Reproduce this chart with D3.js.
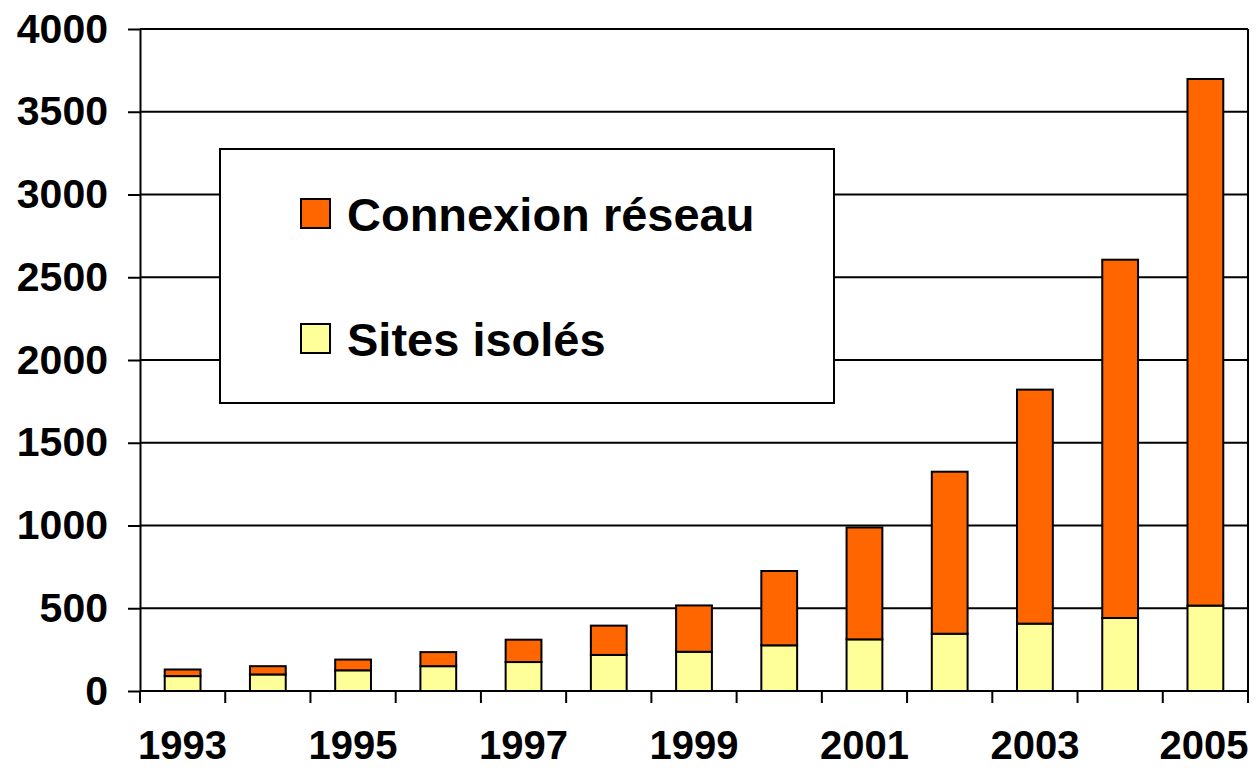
<!DOCTYPE html>
<html>
<head>
<meta charset="utf-8">
<script src="https://cdn.jsdelivr.net/npm/d3@7"></script>
<style>
  body { margin: 0; background: #fff; }
  text { font-family: "Liberation Sans", Arial, sans-serif; font-weight: bold; }
</style>
</head>
<body>
<div id="chart"></div>
<script>
const years = ["1993","1994","1995","1996","1997","1998","1999","2000","2001","2002","2003","2004","2005"];
const sitesIsoles = [90, 100, 125, 150, 175, 218, 237, 276, 312, 346, 407, 441, 516];
const connexionReseau = [40, 50, 65, 85, 135, 177, 280, 449, 676, 979, 1414, 2165, 3182];
const yTicks = [0, 500, 1000, 1500, 2000, 2500, 3000, 3500, 4000];
const xLabels = ["1993","1995","1997","1999","2001","2003","2005"];
const seriesNames = ["Connexion réseau", "Sites isolés"];
const colors = { "Connexion réseau": "#ff6600", "Sites isolés": "#ffff99" };

const width = 1256, height = 768;
const plotLeft = 140, plotRight = 1248, plotTop = 29, plotBottom = 691;

const svg = d3.select("#chart").append("svg")
  .attr("width", width)
  .attr("height", height);

const x = d3.scaleBand().domain(years).range([plotLeft, plotRight])
  .paddingInner(0.58).paddingOuter(0.29);
const y = d3.scaleLinear().domain([0, 4000]).range([plotBottom, plotTop]);

// gridlines
svg.append("g")
  .selectAll("line")
  .data(yTicks.filter(d => d > 0))
  .join("line")
  .attr("x1", plotLeft).attr("x2", plotRight)
  .attr("y1", d => y(d)).attr("y2", d => y(d))
  .attr("stroke", "#000").attr("stroke-width", 2);

// right border of plot area
svg.append("line")
  .attr("x1", plotRight).attr("x2", plotRight)
  .attr("y1", y(4000)).attr("y2", y(0))
  .attr("stroke", "#000").attr("stroke-width", 2);

// stacked bars
const table = years.map((yr, i) => ({ year: yr, "Sites isolés": sitesIsoles[i], "Connexion réseau": connexionReseau[i] }));
const stack = d3.stack().keys(["Sites isolés", "Connexion réseau"]);
const layers = stack(table);

svg.append("g")
  .selectAll("g")
  .data(layers)
  .join("g")
  .attr("fill", d => colors[d.key])
  .selectAll("rect")
  .data(d => d)
  .join("rect")
  .attr("x", d => x(d.data.year))
  .attr("width", x.bandwidth())
  .attr("y", d => y(d[1]))
  .attr("height", d => y(d[0]) - y(d[1]))
  .attr("stroke", "#000")
  .attr("stroke-width", 2);

// y axis
const yAxis = svg.append("g")
  .attr("transform", `translate(${plotLeft},0)`)
  .call(d3.axisLeft(y).tickValues(yTicks).tickFormat(d3.format("d"))
    .tickSize(12).tickSizeOuter(0).tickPadding(20));
yAxis.select(".domain").attr("stroke", "#000").attr("stroke-width", 2);
yAxis.selectAll(".tick line").attr("stroke", "#000").attr("stroke-width", 2);
yAxis.selectAll(".tick text")
  .attr("font-size", 41)
  .attr("font-family", "'Liberation Sans', Arial, sans-serif")
  .attr("font-weight", "bold")
  .attr("fill", "#000");

// x axis
const step = x.step();
const boundaries = d3.range(years.length + 1).map(i => plotLeft + i * step);
const xAxis = svg.append("g");
xAxis.append("line")
  .attr("x1", plotLeft).attr("x2", plotRight)
  .attr("y1", plotBottom).attr("y2", plotBottom)
  .attr("stroke", "#000").attr("stroke-width", 2);
xAxis.selectAll("line.tick")
  .data(boundaries)
  .join("line")
  .attr("class", "tick")
  .attr("x1", d => d).attr("x2", d => d)
  .attr("y1", plotBottom).attr("y2", plotBottom + 12)
  .attr("stroke", "#000").attr("stroke-width", 2);
xAxis.selectAll("text")
  .data(xLabels)
  .join("text")
  .attr("x", d => Math.min(x(d) + x.bandwidth() / 2, 1204))
  .attr("y", 759)
  .attr("text-anchor", "middle")
  .attr("font-size", 40)
  .text(d => d);

// legend
const legend = svg.append("g");
legend.append("rect")
  .attr("x", 220).attr("y", 149)
  .attr("width", 614).attr("height", 254)
  .attr("fill", "#fff")
  .attr("stroke", "#000").attr("stroke-width", 2);
const items = legend.selectAll("g.item")
  .data(seriesNames)
  .join("g")
  .attr("class", "item")
  .attr("transform", (d, i) => `translate(301,${199 + i * 125})`);
items.append("rect")
  .attr("width", 29).attr("height", 29)
  .attr("fill", d => colors[d])
  .attr("stroke", "#000").attr("stroke-width", 2);
items.append("text")
  .attr("x", 46).attr("y", 32)
  .attr("font-size", 47)
  .text(d => d);
</script>
</body>
</html>
